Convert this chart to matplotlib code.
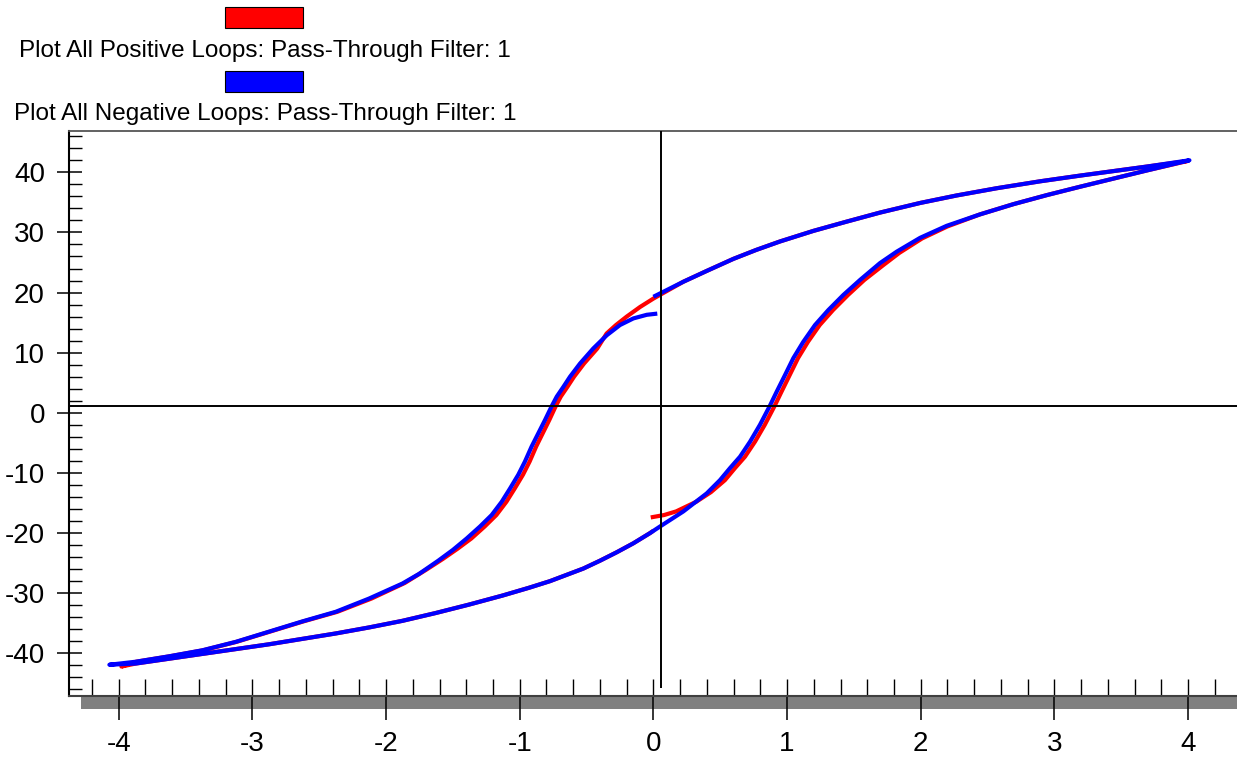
import matplotlib
matplotlib.use('Agg')
import matplotlib.pyplot as plt
from matplotlib.patches import Rectangle
from matplotlib.ticker import MultipleLocator

# Positive loop (red): starts near 0, up to +4, down to -4, back to 0
pos_x = [-0.02, 0.08, 0.17, 0.32, 0.43,
         0.535, 0.61, 0.685, 0.76, 0.833, 0.908, 0.958, 1.02, 1.082, 1.156, 1.244, 1.344, 1.456, 1.578, 1.722,
         1.84, 2.01, 2.2, 2.443, 2.693, 2.942, 3.192, 3.441, 3.69, 4.0,
         3.69, 3.441, 3.192, 2.892, 2.568, 2.269, 1.995, 1.695, 1.446, 1.196, 0.947, 0.77, 0.598, 0.399, 0.224,
         0.0, -0.1, -0.2, -0.28, -0.35,
         -0.42, -0.519, -0.594, -0.644, -0.693, -0.731, -0.779, -0.828, -0.877, -0.926, -0.976, -1.038, -1.1,
         -1.175, -1.262, -1.362, -1.465, -1.575, -1.7, -1.86, -2.11, -2.365, -2.62, -2.87, -3.12, -3.37, -3.62,
         -3.87, -3.98,
         -3.873, -3.624, -3.375, -3.125, -2.876, -2.627, -2.377, -2.128, -1.878, -1.629, -1.38, -1.13, -0.931,
         -0.774, -0.524, -0.4, -0.275, -0.15, -0.025, 0.0]
pos_y = [-17.4, -17.0, -16.4, -14.8, -13.2,
         -11.2, -9.2, -7.3, -4.8, -2.0, 1.2, 3.5, 6.3, 9.1, 11.8, 14.6, 17.1, 19.6, 22.1, 24.6,
         26.6, 29.0, 31.0, 33.0, 34.7, 36.2, 37.6, 38.95, 40.3, 41.9,
         40.95, 40.2, 39.45, 38.5, 37.35, 36.15, 34.9, 33.3, 31.8, 30.25, 28.5, 27.1, 25.6, 23.6, 21.8,
         19.0, 17.6, 16.0, 14.6, 13.2,
         10.7, 8.2, 6.0, 4.3, 2.7, 1.1, -1.2, -3.4, -5.6, -8.1, -10.3, -12.6, -14.8,
         -17.0, -18.9, -20.9, -22.6, -24.3, -26.1, -28.3, -30.9, -33.1, -34.7, -36.4, -38.1, -39.5, -40.5,
         -41.4, -42.2,
         -41.7, -40.9, -40.1, -39.3, -38.5, -37.6, -36.7, -35.7, -34.6, -33.3, -31.9, -30.4, -29.1,
         -28.0, -25.9, -24.6, -23.2, -21.7, -20.0, -19.6]

# Negative loop (blue): starts near 0, down to -4, up to +4, back to 0
neg_x = [0.029, -0.05, -0.15, -0.25, -0.349, -0.45, -0.549, -0.624, -0.674, -0.723, -0.761, -0.811, -0.861,
         -0.911, -0.961, -1.011, -1.073, -1.135, -1.21, -1.297, -1.397, -1.5, -1.61, -1.754, -1.878, -2.128,
         -2.377, -2.627, -2.876, -3.125, -3.375, -3.624, -3.873, -4.07,
         -3.873, -3.624, -3.375, -3.125, -2.876, -2.627, -2.377, -2.128, -1.878, -1.629, -1.38, -1.13, -0.931,
         -0.774, -0.524, -0.4, -0.275, -0.15, -0.025, 0.05, 0.224, 0.399, 0.498, 0.573, 0.648, 0.723, 0.797,
         0.872, 0.922, 0.985, 1.047, 1.121, 1.209, 1.309, 1.421, 1.546, 1.695, 1.82, 1.995, 2.194, 2.443,
         2.693, 2.942, 3.192, 3.441, 3.69, 4.01,
         3.69, 3.441, 3.192, 2.892, 2.568, 2.269, 1.995, 1.695, 1.446, 1.196, 0.947, 0.77, 0.598, 0.399,
         0.224, 0.0]
neg_y = [16.5, 16.3, 15.7, 14.6, 12.9, 10.7, 8.2, 6.0, 4.3, 2.7, 1.1, -1.2, -3.4,
         -5.6, -8.1, -10.3, -12.6, -14.8, -17.0, -18.9, -20.9, -22.8, -24.6, -26.8, -28.4, -30.9,
         -33.1, -34.7, -36.4, -38.1, -39.5, -40.5, -41.4, -41.9,
         -41.7, -40.9, -40.1, -39.3, -38.5, -37.6, -36.7, -35.7, -34.6, -33.3, -31.9, -30.4, -29.1,
         -28.0, -25.9, -24.6, -23.2, -21.7, -20.0, -18.9, -16.4, -13.4, -11.2, -9.2, -7.3, -4.8, -2.0,
         1.2, 3.5, 6.3, 9.1, 11.8, 14.6, 17.1, 19.6, 22.1, 24.9, 26.8, 29.1, 31.1, 33.0,
         34.7, 36.2, 37.6, 38.95, 40.3, 42.0,
         40.95, 40.2, 39.45, 38.5, 37.35, 36.15, 34.9, 33.3, 31.8, 30.25, 28.5, 27.1, 25.6, 23.6,
         21.8, 19.3]

legend_labels = ['Plot All Positive Loops: Pass-Through Filter: 1',
                 'Plot All Negative Loops: Pass-Through Filter: 1']
loop_colors = ['#ff0000', '#0000ff']

x_ticks = [-4, -3, -2, -1, 0, 1, 2, 3, 4]
y_ticks = [-40, -30, -20, -10, 0, 10, 20, 30, 40]

# crosshair position
cross_x = 0.055
cross_y = 1.2

plt.rcParams['font.family'] = ['Liberation Sans', 'DejaVu Sans']

W, H = 1237, 757
fig = plt.figure(figsize=(W / 100, H / 100), dpi=100)
ax = fig.add_axes([69.3 / W, 61.3 / H, (W - 69.3) / W, (695.7 - 131) / H])
ax.set_xlim(-4.37, 4.366)
ax.set_ylim(-47.05, 46.87)

# Loops
ax.plot(pos_x, pos_y, color=loop_colors[0], lw=3, solid_capstyle='butt',
        solid_joinstyle='round', zorder=2)
ax.plot(neg_x, neg_y, color=loop_colors[1], lw=3, solid_capstyle='butt',
        solid_joinstyle='round', zorder=2)

# Crosshair lines
ax.axhline(cross_y, color='black', lw=1.4, zorder=3)
ax.vlines(cross_x, -45.8, 46.87, color='black', lw=1.4, zorder=3)

# Spines
ax.spines['right'].set_visible(False)
ax.spines['top'].set_color('#555555')
ax.spines['top'].set_linewidth(1.3)
ax.spines['left'].set_color('black')
ax.spines['left'].set_linewidth(1.5)
ax.spines['bottom'].set_color('#404040')
ax.spines['bottom'].set_linewidth(1.5)

# Ticks
ax.set_xticks(x_ticks)
ax.set_xticklabels([str(v) for v in x_ticks])
ax.set_yticks(y_ticks)
ax.set_yticklabels([str(v) for v in y_ticks])
ax.xaxis.set_minor_locator(MultipleLocator(0.2))
ax.yaxis.set_minor_locator(MultipleLocator(2))
ax.xaxis.remove_overlapping_locs = False
ax.tick_params(axis='x', which='major', direction='out', length=17.3, width=1.1,
               labelsize=20, pad=8)
ax.tick_params(axis='x', which='minor', direction='in', length=12.2, width=1.0)
ax.tick_params(axis='y', which='major', direction='inout', length=18, width=1.1,
               labelsize=20, pad=8.5)
ax.tick_params(axis='y', which='minor', direction='in', length=9.4, width=1.0)

# Gray bar under the x axis
fig.patches.append(Rectangle((81 / W, (H - 709) / H), 1, 13 / H, transform=fig.transFigure,
                             facecolor='#808080', edgecolor='none', zorder=-1))

# Legend swatches and labels
sw_top = [7, 71]
txt_base = [57, 120]
for i in range(2):
    fig.patches.append(Rectangle((225 / W, (H - sw_top[i] - 21) / H), 78 / W, 21 / H,
                                 transform=fig.transFigure, facecolor=loop_colors[i],
                                 edgecolor='black', lw=0.8))
    fig.text(265 / W, (H - txt_base[i]) / H, legend_labels[i], ha='center', va='baseline',
             fontsize=17.5)

plt.savefig('out.png', dpi=100)
